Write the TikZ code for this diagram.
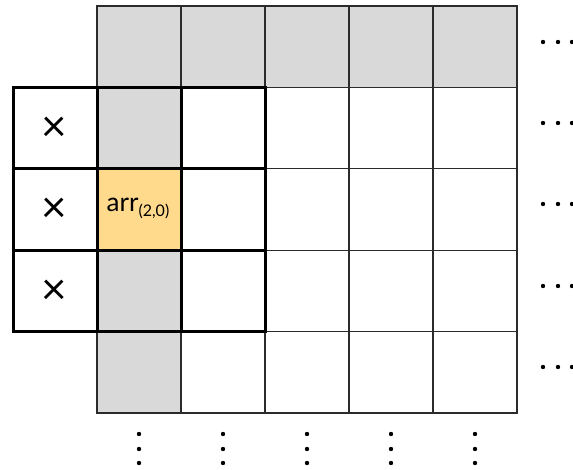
\documentclass[tikz,border=0pt]{standalone}
\usepackage{fontspec}
\setmainfont{Lato}
\definecolor{cellgray}{HTML}{D9D9D9}
\definecolor{hiorange}{HTML}{FFD98C}
\definecolor{gridline}{HTML}{2B2B2B}
\tikzset{
  cell/.style={draw=gridline, line width=1.3pt, minimum width=84pt, minimum height=81.4pt, inner sep=0pt, outer sep=0pt, anchor=north west},
  wincell/.style={draw=black, line width=3pt, minimum width=84pt, minimum height=81.4pt, inner sep=0pt, outer sep=0pt, anchor=north west},
  dotmark/.style={fill=black, circle, inner sep=0pt, minimum size=4.4pt},
  crossmark/.style={font=\fontsize{44}{44}\selectfont, inner sep=0pt},
}
\begin{document}
\begin{tikzpicture}[x=1pt,y=-1pt]
\useasboundingbox (0,0) rectangle (573,470);
% regular grid (columns 0..4, rows 0..4)
\foreach \r in {0,...,4}{
  \foreach \c in {0,...,4}{
    \pgfmathsetmacro{\fillc}{(\r==0 || \c==0) ? "cellgray" : "white"}
    \node[cell, fill=\fillc] (c-\r-\c) at ({97+84*\c},{6+81.4*\r}) {};
  }
}
% highlighted window (columns -1..1, rows 1..3)
\foreach \r in {1,2,3}{
  \foreach \c in {-1,0,1}{
    \pgfmathsetmacro{\fillc}{(\c==0) ? "cellgray" : "white"}
    \node[wincell, fill=\fillc] (w-\r-\c) at ({97+84*\c},{6+81.4*\r}) {};
  }
}
\node[wincell, fill=hiorange] (arr) at (97,{6+81.4*2}) {};
\node[font=\fontsize{26}{26}\selectfont, inner sep=0pt] (arrlabel) at ([xshift=-1pt,yshift=1pt]arr.center) {arr\raisebox{-0.35ex}{\fontsize{16}{16}\selectfont(2,0)}};
% crosses
\foreach \r in {1,2,3}{
  \node[crossmark] (x-\r) at ([xshift=-1pt,yshift=-1pt]w-\r--1.center) {×};
}
% right dots
\foreach \r/\yy in {0/42,1/123,2/204,3/286,4/367}{
  \foreach \k/\xx in {1/543,2/558,3/572}{
    \node[dotmark] (rd-\r-\k) at (\xx,\yy) {};
  }
}
% bottom dots
\foreach \c in {0,...,4}{
  \foreach \k/\yy in {1/434,2/449,3/463}{
    \node[dotmark] (bd-\c-\k) at ({139+84*\c},\yy) {};
  }
}
\end{tikzpicture}
\end{document}
